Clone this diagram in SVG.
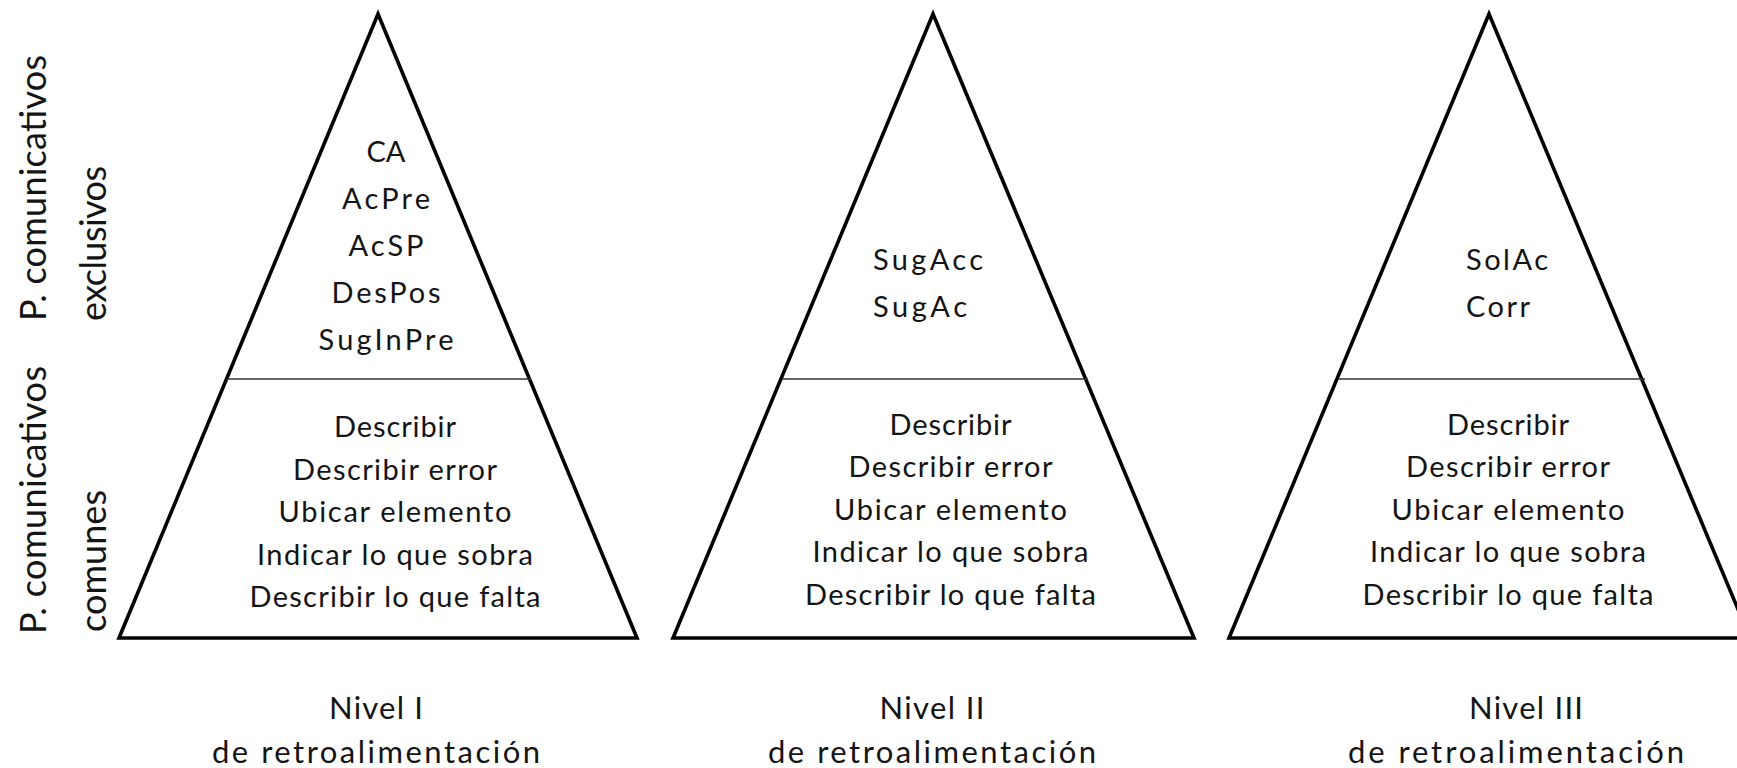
<svg xmlns="http://www.w3.org/2000/svg" width="1737" height="768" viewBox="0 0 1737 768">
<style>
.tri{fill:none;stroke:#000;stroke-width:3.6;stroke-linejoin:miter;stroke-miterlimit:10}
.div{stroke:#333;stroke-width:1.6}
text{font-family:Lato,"Liberation Sans",sans-serif;fill:#141414;font-size:29px}
.c{text-anchor:middle}
.side{font-size:36px}
.bot{font-size:31px}
</style>
<rect width="1737" height="768" fill="#fff"/>
<g id="side-labels">
<text class="side" transform="translate(46,321) rotate(-90)" textLength="266">P. comunicativos</text>
<text class="side" transform="translate(106,321) rotate(-90)" textLength="155">exclusivos</text>
<text class="side" transform="translate(46,634) rotate(-90)" textLength="268">P. comunicativos</text>
<text class="side" transform="translate(106,632) rotate(-90)" textLength="142">comunes</text>
</g>
<g id="nivel1">
<polygon class="tri" points="378,14 637,638 119,638"/>
<line class="div" x1="227" y1="379" x2="531" y2="379"/>
<text class="c" x="386" y="162" textLength="39">CA</text>
<text class="c" x="386" y="209" textLength="88">AcPre</text>
<text class="c" x="386" y="256" textLength="75">AcSP</text>
<text class="c" x="386" y="303" textLength="109">DesPos</text>
<text class="c" x="386" y="350" textLength="135">SugInPre</text>
<text class="c" x="395" y="437" textLength="122">Describir</text>
<text class="c" x="395" y="480" textLength="204">Describir error</text>
<text class="c" x="395" y="522" textLength="233">Ubicar elemento</text>
<text class="c" x="395" y="565" textLength="276">Indicar lo que sobra</text>
<text class="c" x="395" y="607" textLength="291">Describir lo que falta</text>
<text class="c bot" x="376" y="719" textLength="94">Nivel I</text>
<text class="c bot" x="376" y="763" textLength="328">de retroalimentación</text>
</g>
<g id="nivel2">
<polygon class="tri" points="933,14 1194,638 673,638"/>
<line class="div" x1="782" y1="379" x2="1088" y2="379"/>
<text x="873" y="270" textLength="110">SugAcc</text>
<text x="873" y="317" textLength="94">SugAc</text>
<text class="c" x="950.5" y="435" textLength="122">Describir</text>
<text class="c" x="950.5" y="477" textLength="204">Describir error</text>
<text class="c" x="950.5" y="520" textLength="233">Ubicar elemento</text>
<text class="c" x="950.5" y="562" textLength="276">Indicar lo que sobra</text>
<text class="c" x="950.5" y="605" textLength="291">Describir lo que falta</text>
<text class="c bot" x="932" y="719" textLength="105">Nivel II</text>
<text class="c bot" x="932" y="763" textLength="328">de retroalimentación</text>
</g>
<g id="nivel3">
<polygon class="tri" points="1489,14 1750,638 1229,638"/>
<line class="div" x1="1338" y1="379" x2="1645" y2="379"/>
<text x="1466" y="270" textLength="82">SolAc</text>
<text x="1466" y="317" textLength="64">Corr</text>
<text class="c" x="1508" y="435" textLength="122">Describir</text>
<text class="c" x="1508" y="477" textLength="204">Describir error</text>
<text class="c" x="1508" y="520" textLength="233">Ubicar elemento</text>
<text class="c" x="1508" y="562" textLength="276">Indicar lo que sobra</text>
<text class="c" x="1508" y="605" textLength="291">Describir lo que falta</text>
<text class="c bot" x="1526" y="719" textLength="114">Nivel III</text>
<text class="c bot" x="1516" y="763" textLength="336">de retroalimentación</text>
</g>
<g id="connectors"/>
</svg>
